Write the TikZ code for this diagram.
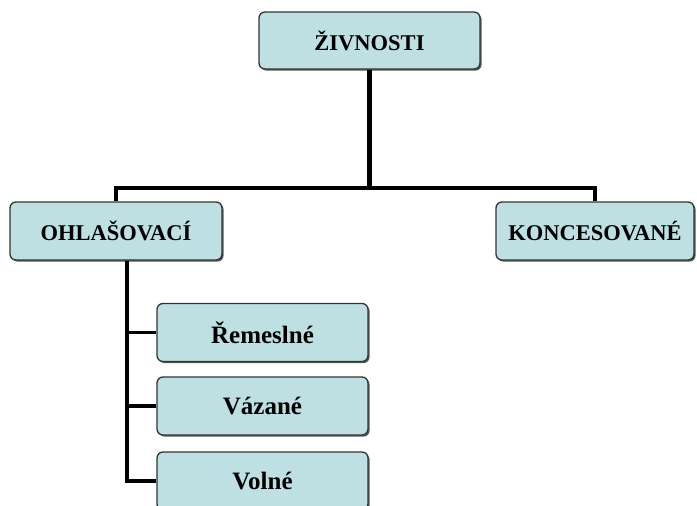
\documentclass[tikz,border=0pt]{standalone}
\usepackage{fontspec}
\setmainfont{Liberation Serif}
\usetikzlibrary{shadows}
\definecolor{boxfill}{HTML}{BEE0E3}
\definecolor{boxline}{HTML}{333333}
\tikzset{
  orgbox/.style={draw=boxline, line width=1.3pt, fill=boxfill, rounded corners=6pt,
    drop shadow={shadow xshift=1.6pt, shadow yshift=-1.6pt, fill=black!65, opacity=1},
    inner sep=0pt, align=center, font=\fontsize{22.5}{24}\selectfont\bfseries},
  subbox/.style={orgbox, minimum width=211pt, minimum height=58pt, font=\fontsize{25}{27}\selectfont\bfseries},
  conn/.style={line width=3.4pt, draw=black},
  thick conn/.style={line width=4.5pt, draw=black}
}
\begin{document}
\begin{tikzpicture}[x=1pt, y=-1pt]
\useasboundingbox (0,0) rectangle (697,506);
\node[orgbox, minimum width=221pt, minimum height=57pt] (ziv) at (369.5,40.5) {ŽIVNOSTI};
\node[orgbox, minimum width=212pt, minimum height=58pt] (ohl) at (116,231) {OHLAŠOVACÍ};
\node[orgbox, minimum width=198pt, minimum height=58pt] (kon) at (595,231) {KONCESOVANÉ};
\node[subbox] (rem) at (262.5,332.5) {Řemeslné};
\node[subbox] (vaz) at (262.5,406) {Vázané};
\node[subbox] (vol) at (262.5,481) {Volné};
\coordinate (j) at (ziv.south |- 0,188);
\coordinate (sp0) at (127,260.5);
\draw[thick conn] (ziv.south) -- (j);
\draw[conn] (ohl.north) |- (j) -| (kon.north);
\draw[conn] (sp0) |- (vol.west);
\draw[conn] (sp0 |- rem.west) -- (rem.west);
\draw[conn] (sp0 |- vaz.west) -- (vaz.west);
\end{tikzpicture}
\end{document}
